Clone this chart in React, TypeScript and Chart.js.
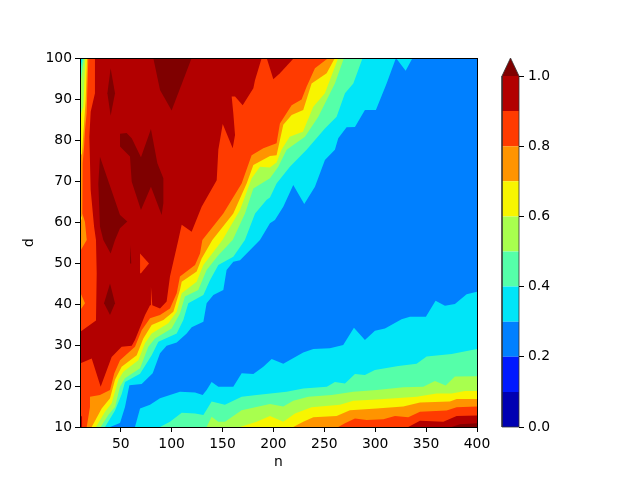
import React, { useEffect, useRef } from "react";
import { Chart, registerables } from "chart.js";

Chart.register(...registerables);

type P = [number, number];

const xTicks = [50, 100, 150, 200, 250, 300, 350, 400];
const levels = [0, 0.1, 0.2, 0.3, 0.4, 0.5, 0.6, 0.7, 0.8, 0.9, 1.0];
const jetColors = ["#0000b2", "#0019ff", "#0080ff", "#00e5f8", "#55ffa9", "#a8ff4e", "#f8f500", "#ff9400", "#ff3b00", "#b20000", "#7f0000"];

const base: P[] = [[10, 10], [400, 10], [400, 100], [10, 100]];

// upper-left ridge: region with value above each level
const ridge30: P[] = [[39.5, 10], [49.3, 11], [54.2, 14.9], [58.5, 20.2], [70.6, 20.5], [81.4, 23.1], [88.6, 28], [95.1, 29.8], [105, 30.6], [114.8, 32.8], [119.7, 34.3], [131.2, 35.7], [134.4, 40.2], [141, 42.2], [150.8, 43.4], [154, 48.3], [160.6, 50.3], [167.2, 50.7], [186.8, 55.6], [196.6, 59.7], [201.5, 60.5], [209.7, 63.7], [219.5, 69], [230.3, 64.4], [240.8, 68.6], [250.6, 75.1], [260.4, 77.6], [263.7, 80.4], [271.9, 83.1], [280.1, 83.2], [289.9, 87.3], [300.7, 87.3], [311.2, 93.8], [320.4, 100], [329.9, 96.9], [336.7, 100], [10, 100], [10, 10]];
const ridge40: P[] = [[34.6, 10], [44.4, 14], [50.9, 18], [54.2, 21], [69, 23], [80.4, 27.5], [87, 30.8], [105, 32.8], [111.5, 36.1], [116.4, 40.2], [131.2, 42.2], [137.7, 45.8], [145.9, 49.5], [160.6, 51.5], [172, 55.6], [182, 62.1], [193.4, 65.4], [196.6, 66], [203.1, 69.4], [216.2, 73.5], [232.6, 77.6], [250.6, 82.8], [262.1, 85.7], [270.3, 91.4], [278.5, 93.8], [287.6, 100], [12.6, 100], [10, 96.7], [10, 10]];
const ridge50: P[] = [[30.3, 10], [37.8, 12.9], [44.4, 14.9], [49.3, 19.8], [54.2, 21.9], [69, 24.3], [77.1, 29.6], [83.7, 31.6], [100, 34], [108.2, 37.7], [113.1, 41.8], [126.2, 43.4], [134.4, 48.3], [145.9, 51.9], [160, 55.6], [172.1, 62.1], [180.3, 68.2], [196.6, 70.7], [204.8, 73.5], [213, 77.6], [231, 80.8], [244.1, 85.7], [260.4, 93.8], [269.3, 100], [13.9, 100], [10, 93], [10, 10]];
const ridge60: P[] = [[25.7, 10], [34.6, 13.7], [41.1, 15.8], [47.7, 21.5], [52.6, 23.5], [67.3, 26.3], [73.9, 30.4], [80.4, 32.8], [96.8, 35.3], [105, 38.1], [109.9, 42.6], [124.6, 45.4], [131.2, 49.5], [150, 55.6], [167.2, 62.9], [178.6, 70.6], [186.8, 73.5], [196.6, 73.3], [203.1, 74.5], [208, 77.6], [216, 80.8], [229, 82], [239.2, 88.1], [250.6, 91.4], [263.7, 100], [15.2, 100], [13.3, 88.1], [10, 85.7], [10, 10]];
const ridge70: P[] = [[21.5, 10], [31.3, 14.5], [39.5, 17], [44.4, 21.5], [50.9, 24.7], [65.7, 27.5], [72.2, 31.6], [80.4, 34.9], [91.9, 36.1], [101.7, 38.1], [108.2, 43.4], [109.9, 45.4], [124.6, 47.9], [129.5, 51.1], [140, 55.6], [160.6, 62.1], [173.7, 69.4], [180.3, 73.9], [196.6, 76.1], [203.1, 76.3], [209.7, 83.7], [217.9, 86.1], [229.3, 87.3], [237.5, 93.8], [252.3, 96.3], [260.4, 100], [16.9, 100], [15.6, 89.8], [13.3, 81.6], [12, 76.7], [10, 76], [10, 62.1], [12, 61], [10, 59.7], [10, 10]];
const ridge80: P[] = [[16.6, 10], [19.8, 14.9], [19.8, 17.4], [29.6, 17.8], [39.5, 19], [43.7, 23.1], [49.3, 26.3], [64, 29.6], [70.6, 33.6], [78.8, 36.5], [88.6, 37.3], [98.4, 38.9], [105, 42.6], [108.2, 46.7], [123, 49.5], [127.9, 52.3], [130.2, 55.6], [150.8, 62.1], [168.8, 69.4], [178.6, 76.3], [190.1, 78], [203.1, 79.2], [206.4, 84], [217.9, 88.5], [227.7, 89.9], [232.6, 93], [240.8, 97.5], [253.9, 100], [18.2, 100], [17.2, 92.2], [16.5, 86.5], [14.9, 82.4], [14, 78.4], [12.6, 74.3], [12, 67], [12.6, 62.1], [14.9, 60], [16.6, 55.6], [15.9, 55.6], [10, 52.8], [10, 43], [14.9, 40.2], [10, 38.4], [10, 10]];
const ridge90: P[] = [[24.7, 100], [24.7, 91.4], [20.5, 86.9], [19.2, 80.8], [20.5, 67.8], [23.8, 58.9], [25.7, 55.6], [26.4, 47.5], [25.7, 36], [10, 33.2], [10, 25.5], [21.5, 26.7], [30.3, 19.8], [41.1, 27.1], [50.9, 29.6], [60.8, 29.8], [64, 31.2], [73.9, 37.3], [78.8, 39.7], [79.7, 44.2], [81, 39.7], [88.6, 38.9], [95.1, 40.6], [98.4, 46.7], [106.6, 55.6], [109.9, 59.3], [119.7, 57.6], [129.5, 63.7], [144.3, 70.2], [145.9, 77.6], [150.2, 83.9], [160, 78], [162.3, 81.2], [160.6, 86.5], [159, 90.6], [162.3, 90.6], [169.8, 88.5], [180.3, 92.6], [181.9, 94.6], [188.5, 100]];
const ridge90Top: P[] = [[193.4, 100], [199.9, 94.8], [206.4, 96.3], [220.2, 100]];
const ridge90Corner: P[] = [[10, 10], [12, 10], [12, 12.5], [10, 13]];
const hole80: P[] = [[69, 52.3], [77.8, 49.9], [69.9, 47.5]];

// peaks above 1.0
const peakTop: P[] = [[82, 100], [88.6, 92.2], [100, 87.2], [119.7, 100]];
const peakB: P[] = [[40.1, 97.5], [36.9, 91.4], [40.1, 85.9], [44.4, 91.4]];
const peakC: P[] = [[49.3, 81.5], [55.8, 81.7], [60.8, 80.4], [69.9, 75.8], [79.7, 82.7], [86, 74.3], [91.9, 70.7], [91.9, 64.6], [90.2, 61.7], [79.7, 68.6], [69.9, 62.9], [60.8, 69.8], [59.1, 76], [49.3, 78.4]];
const peakD: P[] = [[29.6, 75.9], [49.3, 61.7], [56.5, 60.1], [49.3, 58.5], [44.4, 55.6], [40.1, 52.3], [32.9, 55.6], [29.6, 58.9], [28, 69.4]];
const peakE: P[] = [[39.5, 45], [44.4, 40.2], [39.5, 37.3], [33.6, 40.2]];
const peakF: P[] = [[59.4, 54.4], [60.4, 49.9], [59.1, 49.9]];

// lower-right slope: region with value above each level
const slope30: P[] = [[64, 10], [69, 14.5], [78.8, 15.4], [88.6, 17], [98.4, 17.8], [108.2, 18.6], [123, 18.4], [130.5, 17.8], [134.4, 19], [139.3, 21], [145.9, 19.8], [160.6, 19.8], [168.8, 23.1], [180.3, 22.9], [190.1, 24.7], [198.3, 26.6], [209.7, 25.4], [229.3, 28.2], [239.2, 29], [255.5, 29.2], [268.6, 30], [279.1, 34.2], [289.9, 31.2], [299.7, 33.5], [309.6, 34], [325.9, 36.3], [334.1, 36.9], [349.8, 36.9], [359.3, 40.8], [368.5, 39.6], [378.3, 40], [389.8, 42.4], [400, 43], [400, 10]];
const slope40: P[] = [[88.6, 10], [98.4, 11.3], [109.9, 13.5], [123, 13.3], [131.2, 12.9], [139.3, 16.2], [152.4, 15.4], [168.8, 17.4], [183.5, 17.8], [213, 18.6], [229.3, 19.4], [252.5, 19.8], [260.4, 21], [270.3, 20.6], [280.1, 22.9], [289.9, 22.7], [299.7, 23.9], [322.7, 24.9], [340.7, 25.4], [350.5, 27.2], [375.1, 27.8], [400, 29], [400, 10]];
const slope50: P[] = [[134.4, 10], [139.3, 12.5], [145.9, 11.3], [152.4, 11.3], [168.8, 14.1], [196.6, 15.6], [209.7, 15], [219.5, 16.4], [234.2, 17.4], [257.2, 17.8], [278.5, 18.6], [301.4, 19], [327.6, 19.7], [347.2, 19.8], [358.7, 21.2], [369.2, 20.1], [378.3, 22.3], [400, 22.4], [400, 10]];
const slope60: P[] = [[167.2, 10], [183.5, 11.3], [196.6, 12.7], [209.7, 11.3], [221.2, 13.3], [237.5, 14.8], [265.4, 15.4], [278.5, 16.4], [301.4, 16.7], [340.8, 17.4], [360.3, 18.2], [375.1, 18.2], [388.2, 18.8], [400, 18.8], [400, 10]];
const slope70: P[] = [[219.5, 10], [229.3, 11.3], [239.2, 12.4], [262.1, 12.7], [275.2, 14.1], [301.4, 14.5], [327.6, 15], [344, 16], [373.4, 16.2], [380, 16.8], [400, 16.8], [400, 10]];
const slope80: P[] = [[263.7, 10], [270.3, 10.9], [280.1, 12.1], [291.6, 11.7], [308, 11.9], [319.4, 12.7], [332.5, 12.4], [344, 13.7], [370.1, 14], [380, 14.8], [400, 15], [400, 10]];
const slope90: P[] = [[332.5, 10], [344, 11.5], [366.9, 11.3], [380, 12.7], [400, 12.8], [400, 10]];
const slope100: P[] = [[375, 10], [383.2, 10.7], [400, 10.9], [400, 10]];

const layers: [P[], number][] = [
  [base, 2],
  [ridge30, 3], [slope30, 3],
  [ridge40, 4], [slope40, 4],
  [ridge50, 5], [slope50, 5],
  [ridge60, 6], [slope60, 6],
  [ridge70, 7], [slope70, 7],
  [ridge80, 8], [slope80, 8],
  [ridge90, 9], [ridge90Top, 9], [ridge90Corner, 9], [slope90, 9],
  [hole80, 8],
  [peakTop, 10], [peakB, 10], [peakC, 10], [peakD, 10], [peakE, 10], [peakF, 10], [slope100, 10],
];

const FONT = { family: "'DejaVu Sans'", size: 13.89 };
const cbTop = 1.0513;

const polygon = (pts: P[], color: string, order: number) => ({
  type: "line" as const,
  data: [...pts, pts[0]].map(([x, y]) => ({ x, y })),
  fill: "shape",
  backgroundColor: color,
  borderColor: color,
  borderWidth: 0,
  pointRadius: 0,
  tension: 0,
  order,
});

const framePlugin = {
  id: "frame",
  afterDatasetsDraw(chart: any) {
    const { ctx, chartArea: a } = chart;
    ctx.save();
    ctx.strokeStyle = "#000";
    ctx.lineWidth = 1;
    ctx.strokeRect(Math.round(a.left) + 0.5, Math.round(a.top) + 0.5, Math.round(a.right - a.left), Math.round(a.bottom - a.top));
    ctx.restore();
  },
};

export default function App() {
  const mainRef = useRef<HTMLCanvasElement>(null);
  const barRef = useRef<HTMLCanvasElement>(null);

  useEffect(() => {
    Chart.defaults.font.family = FONT.family;
    const tickStyle = { color: "#000", font: FONT };
    const gridStyle = { drawOnChartArea: false, drawTicks: true, tickLength: 5, tickColor: "#000", tickWidth: 1 };
    const main = new Chart(mainRef.current!, {
      type: "line",
      data: {
        datasets: layers.map(([pts, k], i) => polygon(pts, jetColors[k], layers.length - i)) as any,
      },
      plugins: [framePlugin],
      options: {
        responsive: false,
        animation: false,
        events: [],
        layout: { padding: { left: 21, top: 58, right: 163, bottom: 9 } },
        plugins: { legend: { display: false }, tooltip: { enabled: false } },
        scales: {
          x: {
            type: "linear",
            min: 10,
            max: 400,
            afterFit: (s: any) => { s.height = 44; },
            afterBuildTicks: (s: any) => { s.ticks = xTicks.map((value) => ({ value })); },
            title: { display: true, text: "n", color: "#000", font: FONT, padding: { top: 2, bottom: 0 } },
            ticks: { ...tickStyle, maxRotation: 0, padding: 4 },
            grid: gridStyle,
            border: { display: false },
          },
          y: {
            type: "linear",
            min: 10,
            max: 100,
            afterFit: (s: any) => { s.width = 59; },
            title: { display: true, text: "d", color: "#000", font: FONT, padding: { top: 0, bottom: 4 } },
            ticks: { ...tickStyle, stepSize: 10, padding: 3 },
            grid: gridStyle,
            border: { display: false },
          },
        },
      },
    } as any);

    const bar = new Chart(barRef.current!, {
      type: "line",
      data: {
        datasets: [
          ...levels.slice(0, -1).map((lo, i) =>
            polygon([[0, lo], [1, lo], [1, levels[i + 1]], [0, levels[i + 1]]], jetColors[i], 5)
          ),
          polygon([[0, 1], [1, 1], [0.5, cbTop]], jetColors[10], 4),
          {
            type: "line",
            data: [[0, 0], [1, 0], [1, 1], [0.5, cbTop], [0, 1], [0, 0]].map(([x, y]) => ({ x, y })),
            fill: false,
            borderColor: "#333",
            borderWidth: 0.8,
            pointRadius: 0,
            tension: 0,
            clip: false,
            order: 1,
          },
        ] as any,
      },
      options: {
        responsive: false,
        animation: false,
        events: [],
        layout: { padding: { left: 502, top: 58, right: 0, bottom: 53 } },
        plugins: { legend: { display: false }, tooltip: { enabled: false } },
        scales: {
          x: { type: "linear", min: 0, max: 1, display: false },
          y: {
            type: "linear",
            position: "right",
            min: 0,
            max: cbTop,
            afterFit: (s: any) => { s.width = 121; },
            afterBuildTicks: (s: any) => { s.ticks = [0, 0.2, 0.4, 0.6, 0.8, 1.0].map((value) => ({ value })); },
            ticks: { ...tickStyle, padding: 4, callback: (v: any) => Number(v).toFixed(1) },
            grid: gridStyle,
            border: { display: false },
          },
        },
      },
    } as any);

    return () => {
      main.destroy();
      bar.destroy();
    };
  }, []);

  const style: React.CSSProperties = { position: "absolute", left: 0, top: 0 };
  return (
    <div style={{ position: "absolute", left: 0, top: 0, width: 640, height: 480, background: "#fff" }}>
      <canvas ref={mainRef} width={640} height={480} style={style} />
      <canvas ref={barRef} width={640} height={480} style={style} />
    </div>
  );
}
